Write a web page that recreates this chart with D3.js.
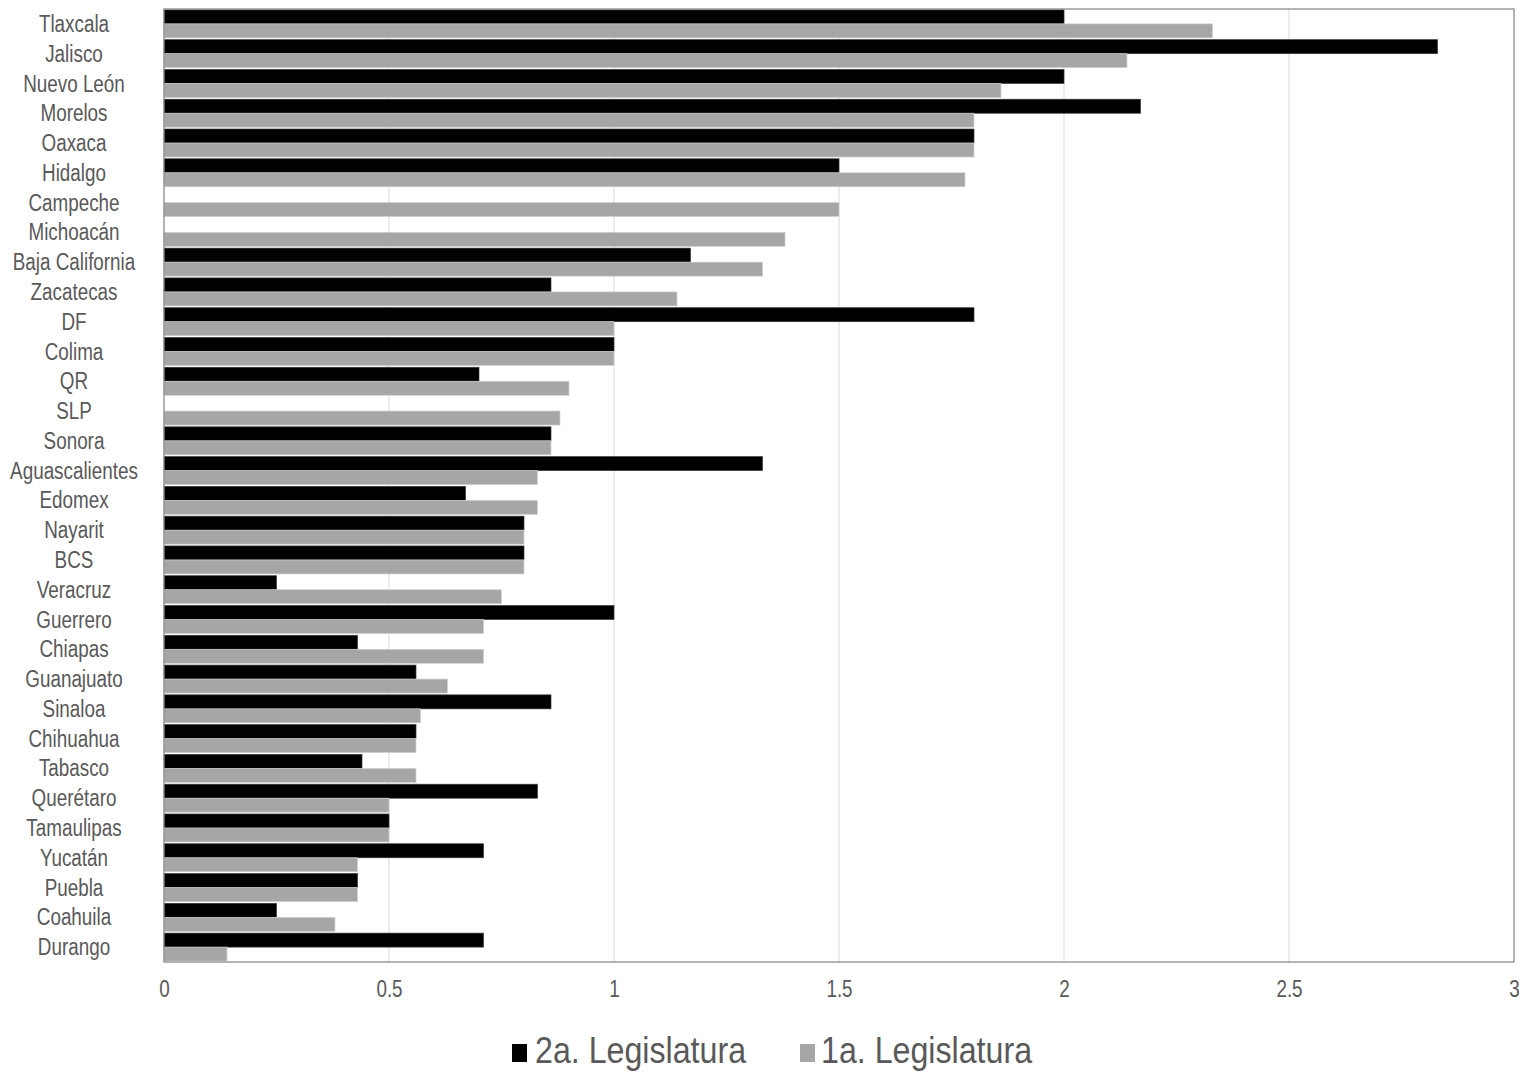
<!DOCTYPE html>
<html>
<head>
<meta charset="utf-8">
<script src="https://cdn.jsdelivr.net/npm/d3@7"></script>
<style>
  html, body { margin: 0; padding: 0; background: #fff; }
  svg { display: block; }
  text { font-family: "Liberation Sans Narrow", "Liberation Sans", Arial, sans-serif; fill: #595959; }
</style>
</head>
<body>
<svg id="chart" width="1522" height="1073"></svg>
<script>
const categories = ["Tlaxcala","Jalisco","Nuevo León","Morelos","Oaxaca","Hidalgo","Campeche","Michoacán","Baja California","Zacatecas","DF","Colima","QR","SLP","Sonora","Aguascalientes","Edomex","Nayarit","BCS","Veracruz","Guerrero","Chiapas","Guanajuato","Sinaloa","Chihuahua","Tabasco","Querétaro","Tamaulipas","Yucatán","Puebla","Coahuila","Durango"];
const legislatura2 = [2.00,2.83,2.00,2.17,1.80,1.50,null,null,1.17,0.86,1.80,1.00,0.70,null,0.86,1.33,0.67,0.80,0.80,0.25,1.00,0.43,0.56,0.86,0.56,0.44,0.83,0.50,0.71,0.43,0.25,0.71];
const legislatura1 = [2.33,2.14,1.86,1.80,1.80,1.78,1.50,1.38,1.33,1.14,1.00,1.00,0.90,0.88,0.86,0.83,0.83,0.80,0.80,0.75,0.71,0.71,0.63,0.57,0.56,0.56,0.50,0.50,0.43,0.43,0.38,0.14];
const seriesNames = ["2a. Legislatura","1a. Legislatura"];
const seriesColors = ["#000000","#a6a6a6"];
const xTicks = [0,0.5,1,1.5,2,2.5,3];

(function () {
const svg = d3.select("#chart");
const pLeft = 164, pRight = 1514, pTop = 9, pBottom = 962;
const narrow = 0.82; // horizontal condensing to imitate a narrow typeface

const x = d3.scaleLinear().domain([0,3]).range([pLeft,pRight]);
const y = d3.scaleBand().domain(categories).range([pTop,pBottom]).paddingInner(0.06).paddingOuter(0.03);
const ySub = d3.scaleBand().domain([0,1]).range([0,y.bandwidth()]);

// gridlines
svg.append("g").selectAll("line").data(xTicks.filter(t => t > 0 && t < 3)).join("line")
  .attr("x1", d => x(d)).attr("x2", d => x(d))
  .attr("y1", pTop).attr("y2", pBottom)
  .attr("stroke", "#d9d9d9").attr("stroke-width", 1);

// bars
const series = [legislatura2, legislatura1];
series.forEach((vals, si) => {
  svg.append("g").selectAll("rect")
    .data(categories.map((c,i) => ({c, v: vals[i]})).filter(d => d.v != null && d.v > 0))
    .join("rect")
    .attr("x", x(0))
    .attr("y", d => y(d.c) + ySub(si))
    .attr("width", d => x(d.v) - x(0))
    .attr("height", ySub.bandwidth())
    .attr("fill", seriesColors[si])
    .attr("stroke", si === 0 ? "#3a3a3a" : "#d0d0d0")
    .attr("stroke-width", 0.7);
});

// plot border
svg.append("rect")
  .attr("x", pLeft).attr("y", pTop)
  .attr("width", pRight - pLeft).attr("height", pBottom - pTop)
  .attr("fill", "none").attr("stroke", "#8c8c8c").attr("stroke-width", 1.3);

// y category labels
svg.append("g").selectAll("text").data(categories).join("text")
  .attr("transform", d => `translate(74,${y(d) + y.bandwidth() / 2}) scale(${narrow},1)`)
  .attr("dy", "0.35em")
  .attr("text-anchor", "middle")
  .style("font-size", "23px")
  .text(d => d);

// x axis tick labels
const xAxis = d3.axisBottom(x).tickValues(xTicks).tickSize(0).tickPadding(0).tickFormat(d3.format("~g"));
const gx = svg.append("g").attr("transform", `translate(0,${pBottom + 19})`).call(xAxis);
gx.select(".domain").remove();
gx.selectAll("text")
  .attr("transform", `scale(${narrow},1)`)
  .style("font-size", "23px")
  .style("font-family", "\"Liberation Sans Narrow\", \"Liberation Sans\", Arial, sans-serif")
  .attr("fill", "#595959");

// legend
const legend = svg.append("g");
const legendItems = [{x: 512, tx: 535}, {x: 800, tx: 821}];
seriesNames.forEach((name, i) => {
  legend.append("rect")
    .attr("x", legendItems[i].x).attr("y", 1044)
    .attr("width", 15).attr("height", 18)
    .attr("fill", seriesColors[i]);
  legend.append("text")
    .attr("transform", `translate(${legendItems[i].tx},1063) scale(0.87,1)`)
    .style("font-size", "37px")
    .text(name);
});
})();
</script>
</body>
</html>
